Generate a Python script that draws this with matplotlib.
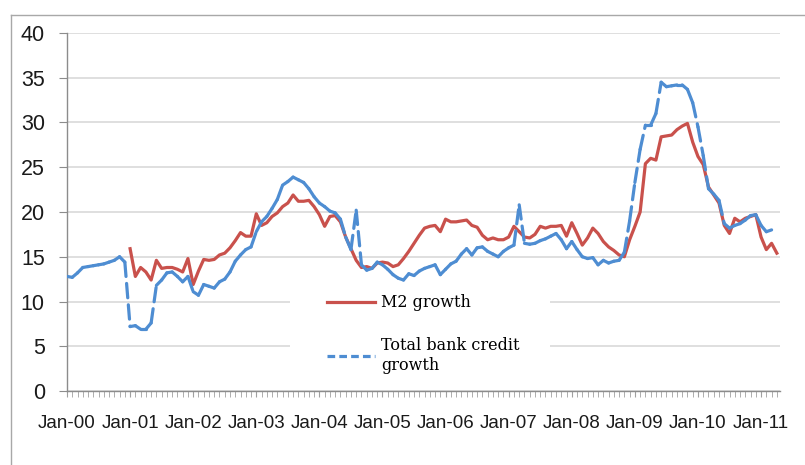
import numpy as np
import matplotlib
matplotlib.use('Agg')
import matplotlib.pyplot as plt
from matplotlib.collections import LineCollection
from matplotlib.lines import Line2D
from matplotlib.patches import Rectangle

# monthly growth rates, Jan-2000 .. Apr-2011
m2_growth = [np.nan] * 12 + [
    15.9, 12.8, 13.8, 13.3, 12.4, 14.6, 13.7, 13.8, 13.8, 13.6, 13.3, 14.8,
    11.9, 13.4, 14.7, 14.6, 14.7, 15.2, 15.4, 16.0, 16.8, 17.7, 17.3, 17.3,
    19.8, 18.5, 18.8, 19.5, 19.9, 20.6, 21.0, 21.9, 21.2, 21.2, 21.3, 20.6,
    19.7, 18.4, 19.5, 19.6, 18.9, 17.2, 15.9, 14.6, 13.8, 13.9, 13.7, 14.3,
    14.4, 14.3, 13.9, 14.1, 14.8, 15.6, 16.5, 17.4, 18.2, 18.4, 18.5, 17.8,
    19.2, 18.9, 18.9, 19.0, 19.1, 18.5, 18.3, 17.4, 16.9, 17.1, 16.9, 16.9,
    17.2, 18.4, 17.8, 17.2, 17.1, 17.5, 18.4, 18.2, 18.4, 18.4, 18.5, 17.3,
    18.8, 17.6, 16.3, 17.1, 18.2, 17.6, 16.7, 16.1, 15.7, 15.2, 15.0, 16.9,
    18.4, 20.0, 25.4, 26.0, 25.8, 28.4, 28.5, 28.6, 29.2, 29.6, 29.9, 27.8,
    26.2, 25.3, 22.8, 21.9, 21.0, 18.5, 17.6, 19.3, 18.9, 19.3, 19.5, 19.7,
    17.2, 15.8, 16.5, 15.4,
]
credit_growth = [
    12.8, 12.7, 13.2, 13.8, 13.9, 14.0, 14.1, 14.2, 14.4, 14.6, 15.0, 14.4,
    7.2, 7.3, 6.9, 6.9, 7.6, 11.8, 12.4, 13.2, 13.3, 12.8, 12.2, 12.8,
    11.1, 10.7, 11.9, 11.7, 11.5, 12.2, 12.5, 13.3, 14.5, 15.2, 15.8, 16.1,
    17.8, 18.9, 19.5, 20.4, 21.4, 23.0, 23.4, 23.9, 23.6, 23.3, 22.6, 21.7,
    21.0, 20.6, 20.1, 19.9, 19.2, 17.2, 15.8, 20.2, 14.1, 13.5, 13.7, 14.4,
    14.1, 13.6, 13.0, 12.6, 12.4, 13.1, 12.9, 13.4, 13.7, 13.9, 14.1, 13.0,
    13.6, 14.2, 14.5, 15.3, 15.9, 15.2, 16.0, 16.1, 15.6, 15.3, 15.0, 15.6,
    16.0, 16.3, 20.8, 16.5, 16.4, 16.5, 16.8, 17.0, 17.3, 17.6, 16.9, 15.9,
    16.7, 15.8, 15.0, 14.8, 14.9, 14.1, 14.6, 14.3, 14.5, 14.6, 15.5, 19.0,
    23.3, 27.0, 29.7, 29.7, 31.0, 34.5, 34.0, 34.1, 34.2, 34.2, 33.7, 32.2,
    29.5, 26.3, 22.6, 22.0, 21.3, 18.7, 18.2, 18.5, 18.7, 19.1, 19.6, 19.7,
    18.5, 17.8, 18.0, np.nan,
]
year_labels = ['Jan-00', 'Jan-01', 'Jan-02', 'Jan-03', 'Jan-04', 'Jan-05',
               'Jan-06', 'Jan-07', 'Jan-08', 'Jan-09', 'Jan-10', 'Jan-11']

red = '#C9514C'
blue = '#4E8DD2'
grey = '#D9D9D9'

fig = plt.figure(figsize=(8.05, 4.65), dpi=100)
ax = fig.add_axes([67/805, 1 - 391/465, 713/805, 358/465])

x = np.arange(len(credit_growth))
m2 = np.array(m2_growth)
cr = np.array(credit_growth)

ax.plot(x, m2, color=red, lw=2.3, solid_joinstyle='round', zorder=3,
        label='M2 growth')

# excel restarts the dash pattern on every segment, so draw them one by one
pts = np.column_stack([x, cr])
segs = [pts[i:i+2] for i in range(len(pts) - 1)
        if not np.isnan(pts[i:i+2]).any()]
lc = LineCollection(segs, colors=blue, linewidths=2.3,
                    linestyles=[(0, (4.5, 2.2))], capstyle='round', zorder=3)
ax.add_collection(lc)

ax.set_xlim(0, 135.6)
ax.set_ylim(0, 40)
ax.set_yticks(range(0, 41, 5))
ax.set_xticks(range(0, len(x), 12))
ax.set_xticklabels(year_labels)
ax.set_xticks(range(len(x)), minor=True)

ax.grid(axis='y', color=grey, lw=1.2)
ax.set_axisbelow(True)
for s in ['top', 'right']:
    ax.spines[s].set_visible(False)
for s in ['left', 'bottom']:
    ax.spines[s].set_color('#8C8C8C')
    ax.spines[s].set_linewidth(1.0)

ax.tick_params(axis='y', length=6, color='#8C8C8C', pad=10,
               labelsize=15.5, labelcolor='#1A1A1A')
ax.tick_params(axis='x', which='both', length=4, color='#A0A0A0', pad=13,
               labelsize=13.5, labelcolor='#1A1A1A')
for t in ax.get_xticklabels() + ax.get_yticklabels():
    t.set_fontfamily('Liberation Sans')

# white legend area hides the gridlines behind it
ax.add_patch(Rectangle((0.313, 0.015), 0.364, 0.29, transform=ax.transAxes,
                       facecolor='white', edgecolor='none', zorder=1))

handles = [Line2D([], [], color=red, lw=2.3),
           Line2D([], [], color=blue, lw=2.3, dashes=(2.4, 1.3))]
ax.legend(handles, ['M2 growth', 'Total bank credit\ngrowth'],
          loc='upper left', bbox_to_anchor=(0.345, 0.31), frameon=False,
          handlelength=3.0, handletextpad=0.35, labelspacing=1.6,
          prop={'family': 'DejaVu Serif', 'size': 11.5})

# chart area border (only top and left edges visible)
fig.add_artist(Line2D([11/805, 1], [1 - 15/465, 1 - 15/465], color='#A8A8A8', lw=1))
fig.add_artist(Line2D([11/805, 11/805], [0, 1 - 15/465], color='#A8A8A8', lw=1))

fig.savefig('out.png', dpi=100)
